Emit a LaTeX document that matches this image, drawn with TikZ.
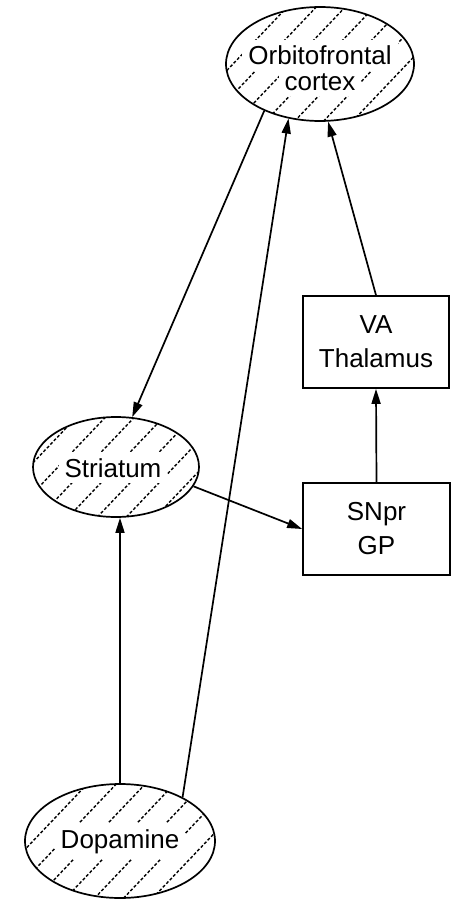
\documentclass[tikz,border=0pt]{standalone}
\usepackage{fontspec}
\setmainfont{Liberation Sans}
\usetikzlibrary{shapes.geometric,arrows.meta}
\newcommand\wbg[1]{\smash{\begingroup\setlength{\fboxsep}{6pt}\colorbox{white}{#1}\endgroup}}
\begin{document}
\begin{tikzpicture}[x=1pt,y=-1pt,
  line width=1.7pt,
  every node/.style={font=\fontsize{26}{34}\selectfont},
  hatchline/.style={line width=1.4pt, dash pattern=on 3pt off 2pt},
  region/.style={ellipse, draw, inner sep=0pt,
    path picture={\foreach \k in {-9,...,9}{\draw[hatchline] ([xshift=\k*29pt]path picture bounding box.center) ++(-120pt,-126pt) -- ++(240pt,252pt);}}},
  regiontext/.style={align=center, inner sep=0pt},
  areabox/.style={draw, rectangle, minimum width=146pt, minimum height=92pt, align=center, inner sep=0pt},
  link/.style={-{Triangle[length=15pt,width=9pt]}}
]
\useasboundingbox (0,0) rectangle (456,899);

% regions
\node[region, minimum width=188pt, minimum height=114pt] (orb) at (320,64) {};
\node[region, minimum width=166pt, minimum height=100pt] (str) at (116,467) {};
\node[region, minimum width=190pt, minimum height=114pt] (dop) at (120,841) {};

\node[regiontext, font=\fontsize{26}{25}\selectfont] (orbt) at (320,77.5) {\wbg{Orbitofrontal}\\\wbg{cortex}};
\node[regiontext] (strt) at (113,477) {\wbg{Striatum}};
\node[regiontext] (dopt) at (120,848) {\wbg{Dopamine}};

% boxes
\node[areabox] (va) at (376,342) {VA\\Thalamus};
\node[areabox, minimum width=147pt] (sn) at (376.5,529) {SNpr\\GP};

% connectors
\draw[link] (orb.220) -- (str.72);
\draw[link] (dop.35) -- (orb.240);
\draw[link] (va.north) -- (orb.278);
\draw[link] (sn.north) -- (va.south);
\draw[link] (str.346) -- (sn.west);
\draw[link] (dop.north) -- (dop.north |- str.south);
\end{tikzpicture}
\end{document}
